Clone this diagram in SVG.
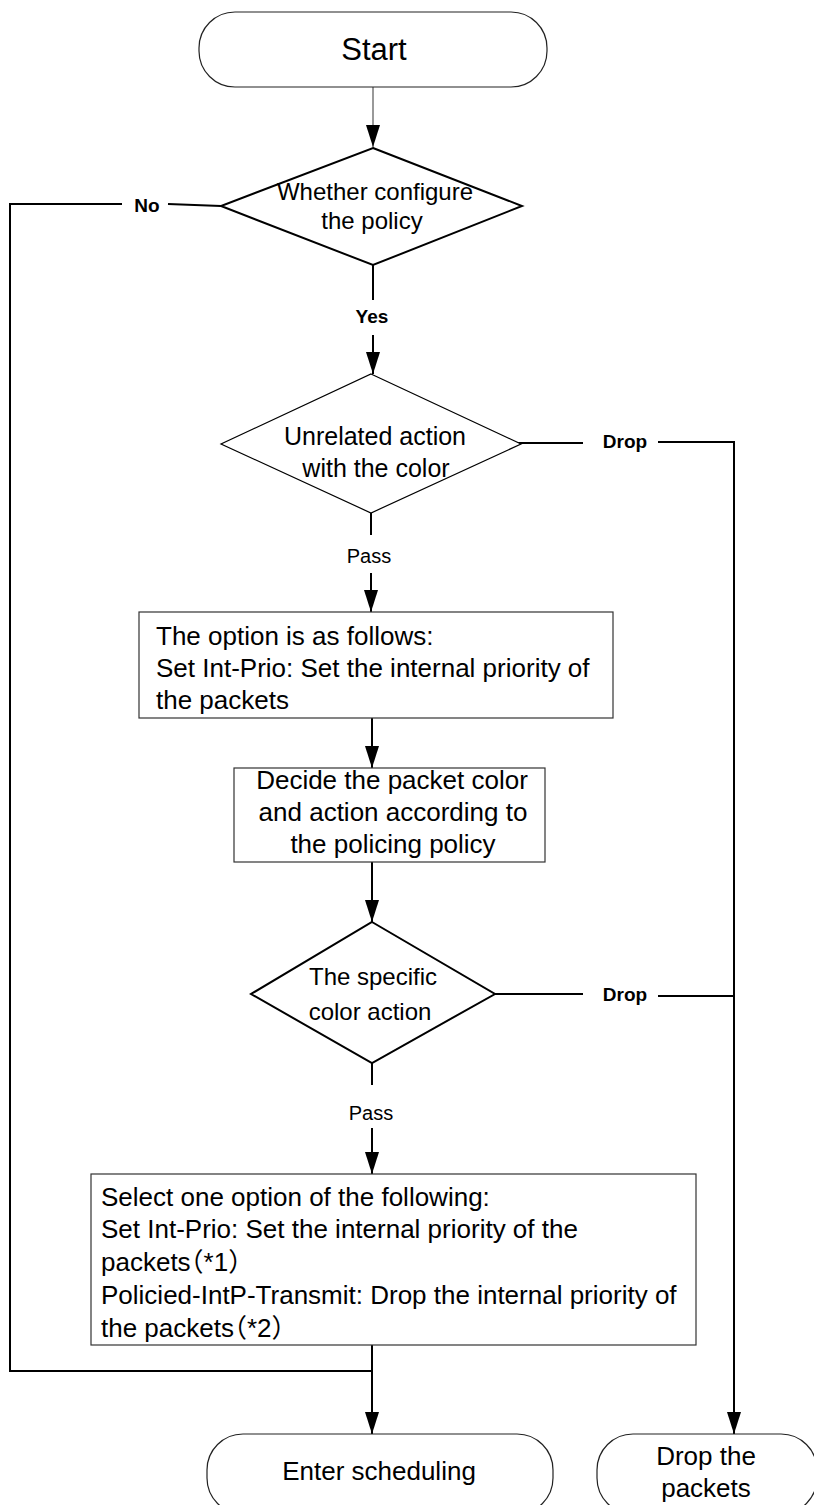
<svg xmlns="http://www.w3.org/2000/svg" width="814" height="1505" viewBox="0 0 814 1505">
<style>
.t{font-family:"Liberation Sans",Arial,"Noto Sans CJK SC",sans-serif;fill:#000}
.c{text-anchor:middle}
.h{font-feature-settings:"halt" 1}
.lb{font-family:"Liberation Sans",Arial,sans-serif;font-size:19px;font-weight:bold;text-anchor:middle}
.pl{font-family:"Liberation Sans",Arial,sans-serif;font-size:20px;text-anchor:middle}
.term{fill:#fff;stroke:#222;stroke-width:1.2}
.box{fill:#fff;stroke:#333;stroke-width:1.2}
.dia{fill:#fff;stroke:#000}
.ln{fill:none;stroke:#000;stroke-width:2}
.thin{fill:none;stroke:#555;stroke-width:1.2}
</style>
<defs>
<marker id="ah" viewBox="0 0 22 14" refX="22" refY="7" markerWidth="22" markerHeight="14" markerUnits="userSpaceOnUse" orient="auto">
<path d="M0,0 L22,7 L0,14 z" fill="#000"/>
</marker>
</defs>
<rect width="814" height="1505" fill="#fff"/>

<g id="connectors">
<line class="thin" x1="373" y1="87" x2="373" y2="147" marker-end="url(#ah)"/>
<polyline class="ln" points="373,265 373,300"/>
<line class="ln" x1="373" y1="335" x2="373" y2="374" marker-end="url(#ah)"/>
<polyline class="ln" points="221,206 168,204"/>
<polyline class="ln" points="122,204 10,204 10,1371 372,1371"/>
<polyline class="ln" points="506,443 583,443"/>
<polyline class="ln" points="658,442 734,442 734,1434" marker-end="url(#ah)"/>
<polyline class="ln" points="371,513 371,535"/>
<line class="ln" x1="371" y1="573" x2="371" y2="612" marker-end="url(#ah)"/>
<line class="ln" x1="372" y1="718" x2="372" y2="768" marker-end="url(#ah)"/>
<line class="ln" x1="372" y1="862" x2="372" y2="922" marker-end="url(#ah)"/>
<polyline class="ln" points="495,994 583,994"/>
<polyline class="ln" points="658,996 734,996"/>
<polyline class="ln" points="372,1063 372,1085"/>
<line class="ln" x1="372" y1="1128" x2="372" y2="1174" marker-end="url(#ah)"/>
<line class="ln" x1="372" y1="1345" x2="372" y2="1434" marker-end="url(#ah)"/>
<text class="lb" x="147" y="212">No</text>
<text class="lb" x="372" y="323">Yes</text>
<text class="lb" x="625" y="448">Drop</text>
<text class="lb" x="625" y="1001">Drop</text>
<text class="pl" x="369" y="563">Pass</text>
<text class="pl" x="371" y="1120">Pass</text>
</g>

<g id="start">
<rect class="term" x="199" y="12" width="348" height="75" rx="36" ry="36"/>
<text class="t c" x="374" y="60" font-size="31">Start</text>
</g>

<g id="d1">
<polygon class="dia" stroke-width="2" points="373,148 522,206 373,265 221,206"/>
<text class="t c" x="375" y="200" font-size="24">Whether configure</text>
<text class="t c" x="372" y="229" font-size="24">the policy</text>
</g>

<g id="d2">
<polygon class="dia" stroke-width="1.2" points="371,374 521,444 371,513 221,444"/>
<text class="t c" x="375" y="445" font-size="25">Unrelated action</text>
<text class="t c" x="376" y="477" font-size="25">with the color</text>
</g>

<g id="box1">
<rect class="box" x="139" y="612" width="474" height="106"/>
<text class="t" x="156" y="645" font-size="26">The option is as follows:</text>
<text class="t" x="156" y="677" font-size="26">Set Int-Prio: Set the internal priority of</text>
<text class="t" x="156" y="709" font-size="26">the packets</text>
</g>

<g id="box2">
<rect class="box" x="234" y="768" width="311" height="94"/>
<text class="t c" x="392" y="789" font-size="26">Decide the packet color</text>
<text class="t c" x="393" y="821" font-size="26">and action according to</text>
<text class="t c" x="393" y="853" font-size="26">the policing policy</text>
</g>

<g id="d3">
<polygon class="dia" stroke-width="2" points="372,922 495,994 372,1063 251,994"/>
<text class="t c" x="373" y="985" font-size="24">The specific</text>
<text class="t c" x="370" y="1020" font-size="24">color action</text>
</g>

<g id="box3">
<rect class="box" x="91" y="1174" width="605" height="171"/>
<text class="t" x="101" y="1206" font-size="26">Select one option of the following:</text>
<text class="t" x="101" y="1238" font-size="26">Set Int-Prio: Set the internal priority of the</text>
<text class="t h" x="101" y="1271" font-size="26">packets（*1）</text>
<text class="t" x="101" y="1304" font-size="26">Policied-IntP-Transmit: Drop the internal priority of</text>
<text class="t h" x="101" y="1337" font-size="26">the packets（*2）</text>
</g>

<g id="enter">
<rect class="term" x="207" y="1434" width="346" height="80" rx="36" ry="36"/>
<text class="t c" x="379" y="1480" font-size="26">Enter scheduling</text>
</g>

<g id="dropterm">
<rect class="term" x="597" y="1434" width="220" height="80" rx="36" ry="36"/>
<text class="t c" x="706" y="1465" font-size="26">Drop the</text>
<text class="t c" x="706" y="1497" font-size="26">packets</text>
</g>
</svg>
